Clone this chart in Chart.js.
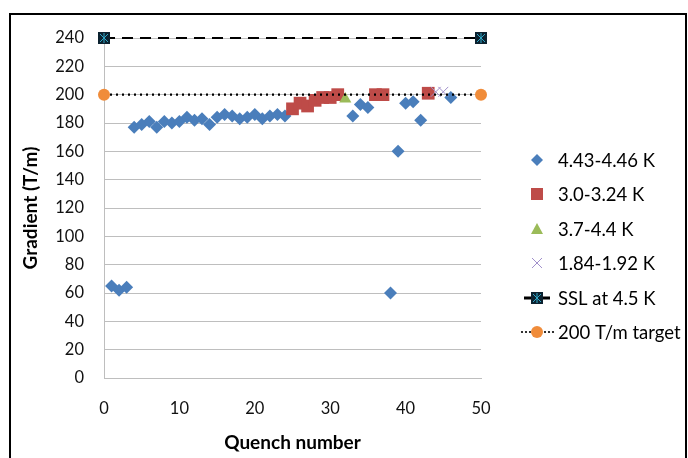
<!DOCTYPE html>
<html><head><meta charset="utf-8">
<script src="https://cdn.jsdelivr.net/npm/chart.js@4/dist/chart.umd.min.js"></script>
<style>html,body{margin:0;padding:0;background:#fff}canvas{display:block}</style>
</head><body>
<canvas id="c" width="688" height="458"></canvas>
<script>
// ---- data ----
const seriesNames = ['4.43-4.46 K','3.0-3.24 K','3.7-4.4 K','1.84-1.92 K','SSL at 4.5 K','200 T/m target'];
const blueQuench   = [1,2,3,4,5,6,7,8,9,10,11,12,13,14,15,16,17,18,19,20,21,22,23,24,33,34,35,38,39,40,41,42,46];
const blueGradient = [65,62,64,177,179,181,177,181,180,181,184,182,183,179,184,186,185,183,184,186,183,185,186,185,185,193,191,60,160,194,195,182,198];
const redQuench    = [25,26,27,28,29,30,31,36,37,43];
const redGradient  = [190,194,192,196,198,198,200,200,200,201];
const greenQuench  = [32];
const greenGradient= [197];
const purpleQuench = [44,45];
const purpleGradient=[202,202];
const sslQuench    = [0,50];
const sslGradient  = [240,240];
const targetQuench = [0,50];
const targetGradient=[200,200];
const xTicks = [0,10,20,30,40,50];
const yTicks = [0,20,40,60,80,100,120,140,160,180,200,220,240];

function pts(xs, ys){ return xs.map((x,i)=>({x:x,y:ys[i]})); }

function makeSSLMarker(){
  const c=document.createElement('canvas'); c.width=12; c.height=12;
  const g=c.getContext('2d');
  g.fillStyle='#0c2230'; g.fillRect(0,0,12,12);
  g.strokeStyle='#2fa6c6'; g.lineWidth=1;
  g.beginPath();
  g.moveTo(6,1); g.lineTo(6,11);
  g.moveTo(2,2); g.lineTo(10,10);
  g.moveTo(10,2); g.lineTo(2,10);
  g.stroke();
  return c;
}
const sslMarker = makeSSLMarker();

const FONT = 'Lato, "Open Sans", sans-serif';

const blue='#4A7EBB', red='#BE4B48', green='#9BBB59', purple='#A190CB', orange='#F08C3A';

const frame = {
  id:'frame',
  beforeDraw(chart){
    const g=chart.ctx; g.save();
    g.fillStyle='#fff'; g.fillRect(0,0,chart.width,chart.height);
    g.strokeStyle='#000'; g.lineWidth=2;
    g.beginPath(); g.moveTo(10,470); g.lineTo(10,14); g.lineTo(686,14); g.lineTo(686,470); g.stroke();
    g.restore();
  }
};

function drawMarker(g, kind, x, y){
  g.save();
  if(kind==='diamond'){ g.fillStyle=blue; g.beginPath(); g.moveTo(x,y-6); g.lineTo(x+6,y); g.lineTo(x,y+6); g.lineTo(x-6,y); g.closePath(); g.fill(); }
  else if(kind==='square'){ g.fillStyle=red; g.fillRect(x-6,y-6,12,12); }
  else if(kind==='triangle'){ g.fillStyle=green; g.beginPath(); g.moveTo(x,y-6); g.lineTo(x+6,y+5); g.lineTo(x-6,y+5); g.closePath(); g.fill(); }
  else if(kind==='cross'){ g.strokeStyle=purple; g.lineWidth=1; g.beginPath(); g.moveTo(x-5,y-5); g.lineTo(x+5,y+5); g.moveTo(x+5,y-5); g.lineTo(x-5,y+5); g.stroke(); }
  else if(kind==='ssl'){ g.strokeStyle='#000'; g.lineWidth=3; g.beginPath(); g.moveTo(524,y); g.lineTo(532,y); g.moveTo(542,y); g.lineTo(550,y); g.stroke(); g.drawImage(sslMarker,x-6,y-6); }
  else if(kind==='target'){ g.fillStyle='#000'; [522,526,530,545,549,553].forEach(px=>{g.beginPath(); g.arc(px,y,1.1,0,Math.PI*2); g.fill();}); g.fillStyle=orange; g.beginPath(); g.arc(x,y,6,0,Math.PI*2); g.fill(); }
  g.restore();
}

const legendPlugin = {
  id:'customLegend',
  afterDraw(chart){
    const g=chart.ctx;
    const kinds=['diamond','square','triangle','cross','ssl','target'];
    const ys=[160,194,229,263,298,332];
    g.save();
    g.font='18.5px '+FONT; g.fillStyle='#000'; g.textBaseline='middle'; g.textAlign='left';
    kinds.forEach((k,i)=>{ drawMarker(g,k,537,ys[i]); g.fillText(seriesNames[i],558,ys[i]+1); });
    g.restore();
  }
};

new Chart(document.getElementById('c'), {
  type:'scatter',
  data:{ datasets:[
    {label:seriesNames[5], data:pts(targetQuench,targetGradient), showLine:true, borderColor:'#000', borderWidth:2.2, borderDash:[2,4], pointStyle:'circle', pointRadius:6, pointBackgroundColor:orange, pointBorderColor:orange, pointBorderWidth:0, order:0},
    {label:seriesNames[4], data:pts(sslQuench,sslGradient), showLine:true, borderColor:'#000', borderWidth:2, borderDash:[11,7], pointStyle:sslMarker, pointRadius:6, order:1},
    {label:seriesNames[3], data:pts(purpleQuench,purpleGradient), pointStyle:'crossRot', pointRadius:7, borderColor:purple, pointBorderColor:purple, pointBorderWidth:1, order:2},
    {label:seriesNames[2], data:pts(greenQuench,greenGradient), pointStyle:'triangle', pointRadius:7, backgroundColor:green, borderColor:green, pointBorderWidth:0, order:3},
    {label:seriesNames[1], data:pts(redQuench,redGradient), pointStyle:'rect', pointRadius:9, backgroundColor:red, borderColor:red, pointBorderWidth:0, order:4},
    {label:seriesNames[0], data:pts(blueQuench,blueGradient), pointStyle:'rectRot', pointRadius:6.5, backgroundColor:blue, borderColor:blue, pointBorderWidth:0, order:5}
  ]},
  options:{
    responsive:false, animation:false, devicePixelRatio:1,
    clip:false,
    layout:{padding:{left:16,top:38,right:207,bottom:0}},
    plugins:{legend:{display:false}, tooltip:{enabled:false}},
    scales:{
      x:{ type:'linear', min:0, max:50,
        afterBuildTicks(s){ s.ticks = xTicks.map(v=>({value:v})); },
        afterFit(s){ s.height = 80; },
        grid:{display:false, drawTicks:false},
        border:{display:true, color:'#BEBEBE', width:1},
        ticks:{padding:21, color:'#111', font:{family:FONT,size:16.5}},
        title:{display:true, text:'Quench number', color:'#000', font:{family:FONT,size:19,weight:'bold'}, padding:{top:0,bottom:4}}
      },
      y:{ type:'linear', min:0, max:240,
        afterBuildTicks(s){ s.ticks = yTicks.map(v=>({value:v})); },
        afterFit(s){ s.width = 88; },
        grid:{color:'#BEBEBE', lineWidth:1, drawTicks:false},
        border:{display:true, color:'#BEBEBE', width:1},
        ticks:{padding:20, color:'#111', font:{family:FONT,size:16.5}},
        title:{display:true, text:'Gradient (T/m)', color:'#000', font:{family:FONT,size:19,weight:'bold'}, padding:{top:3,bottom:0}}
      }
    }
  },
  plugins:[frame, legendPlugin]
});
</script>
</body></html>
